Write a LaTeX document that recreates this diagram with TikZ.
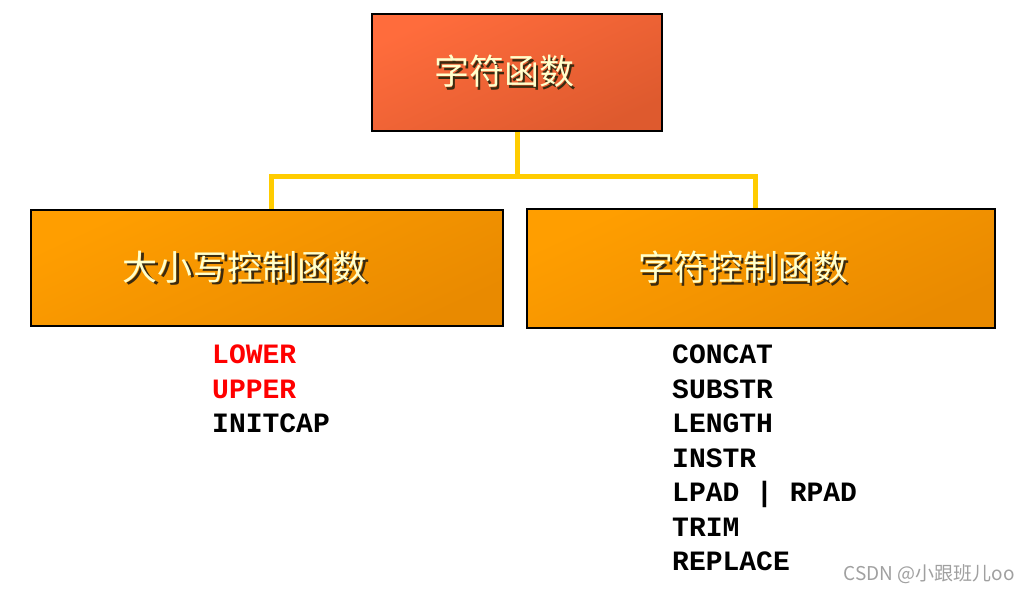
\documentclass[tikz,border=0pt]{standalone}
\usepackage{fontspec}
\setmonofont{Liberation Mono}
\newfontfamily\cjk{Noto Sans CJK SC}
\usetikzlibrary{positioning}

\definecolor{redtop}{HTML}{FF6C3C}
\definecolor{redbot}{HTML}{DE5A2E}
\definecolor{orangetop}{HTML}{FF9E00}
\definecolor{orangebot}{HTML}{E98A00}
\definecolor{linkyellow}{HTML}{FFCC00}
\definecolor{txtcream}{HTML}{FFFFCC}
\definecolor{txtshadow}{HTML}{3A2A10}
\definecolor{fnred}{HTML}{FF0000}
\definecolor{markgray}{HTML}{A0A0A0}

\newcommand{\embossed}[1]{\makebox[0pt][l]{\hspace{2.5pt}\raisebox{-2.5pt}{\color{txtshadow}#1}}{\color{txtcream}#1}}

\tikzset{
	funcbox/.style={draw=black, line width=2pt, inner sep=0pt, shading=axis, top color=#1top, bottom color=#1bot, shading angle=25},
	boxtext/.style={font=\cjk\fontsize{35}{40}\selectfont, inner sep=0pt},
	link/.style={draw=linkyellow, line width=5pt},
	fnitem/.style={anchor=base west, inner sep=0pt, font=\ttfamily\bfseries\fontsize{28}{34}\selectfont}
}

\begin{document}
\begin{tikzpicture}[x=1pt,y=-1pt]
	\useasboundingbox (0,0) rectangle (1030,591);

	\draw[] (517,72.5) node[funcbox=red, minimum width=290pt, minimum height=117pt] (chartop) {};
	\draw[] (267,268) node[funcbox=orange, minimum width=472pt, minimum height=116pt] (caseleft) {};
	\draw[] (761,268.5) node[funcbox=orange, minimum width=468pt, minimum height=119pt] (charright) {};

	\node[boxtext] (chartoptext) at ([xshift=-13pt]chartop.center) {\embossed{字符函数}};
	\node[boxtext] (caselefttext) at ([xshift=-22pt]caseleft.center) {\embossed{大小写控制函数}};
	\node[boxtext] (charrighttext) at ([xshift=-18pt]charright.center) {\embossed{字符控制函数}};

	\draw[link] (chartop.south) -- ++(0,44) coordinate (fork);
	\draw[link] (fork) -| ([xshift=4pt]caseleft.north);
	\draw[link] (fork) -| ([xshift=-6pt]charright.north);

	% left list
	\node[fnitem, text=fnred] (lower) at (212,363.5) {LOWER};
	\node[fnitem, text=fnred] (upper) at (212,398) {UPPER};
	\node[fnitem] (initcap) at (212,432.5) {INITCAP};

	% right list
	\foreach \w [count=\i] in {CONCAT,SUBSTR,LENGTH,INSTR,LPAD | RPAD,TRIM,REPLACE}
		\node[fnitem] (fn\i) at (672,363.5+34.5*\i-34.5) {\w};

	\node[anchor=base east, inner sep=0pt, text=markgray, font=\cjk\fontsize{19}{22}\selectfont] (mark) at (1015,580) {CSDN @小跟班儿oo};
\end{tikzpicture}
\end{document}
